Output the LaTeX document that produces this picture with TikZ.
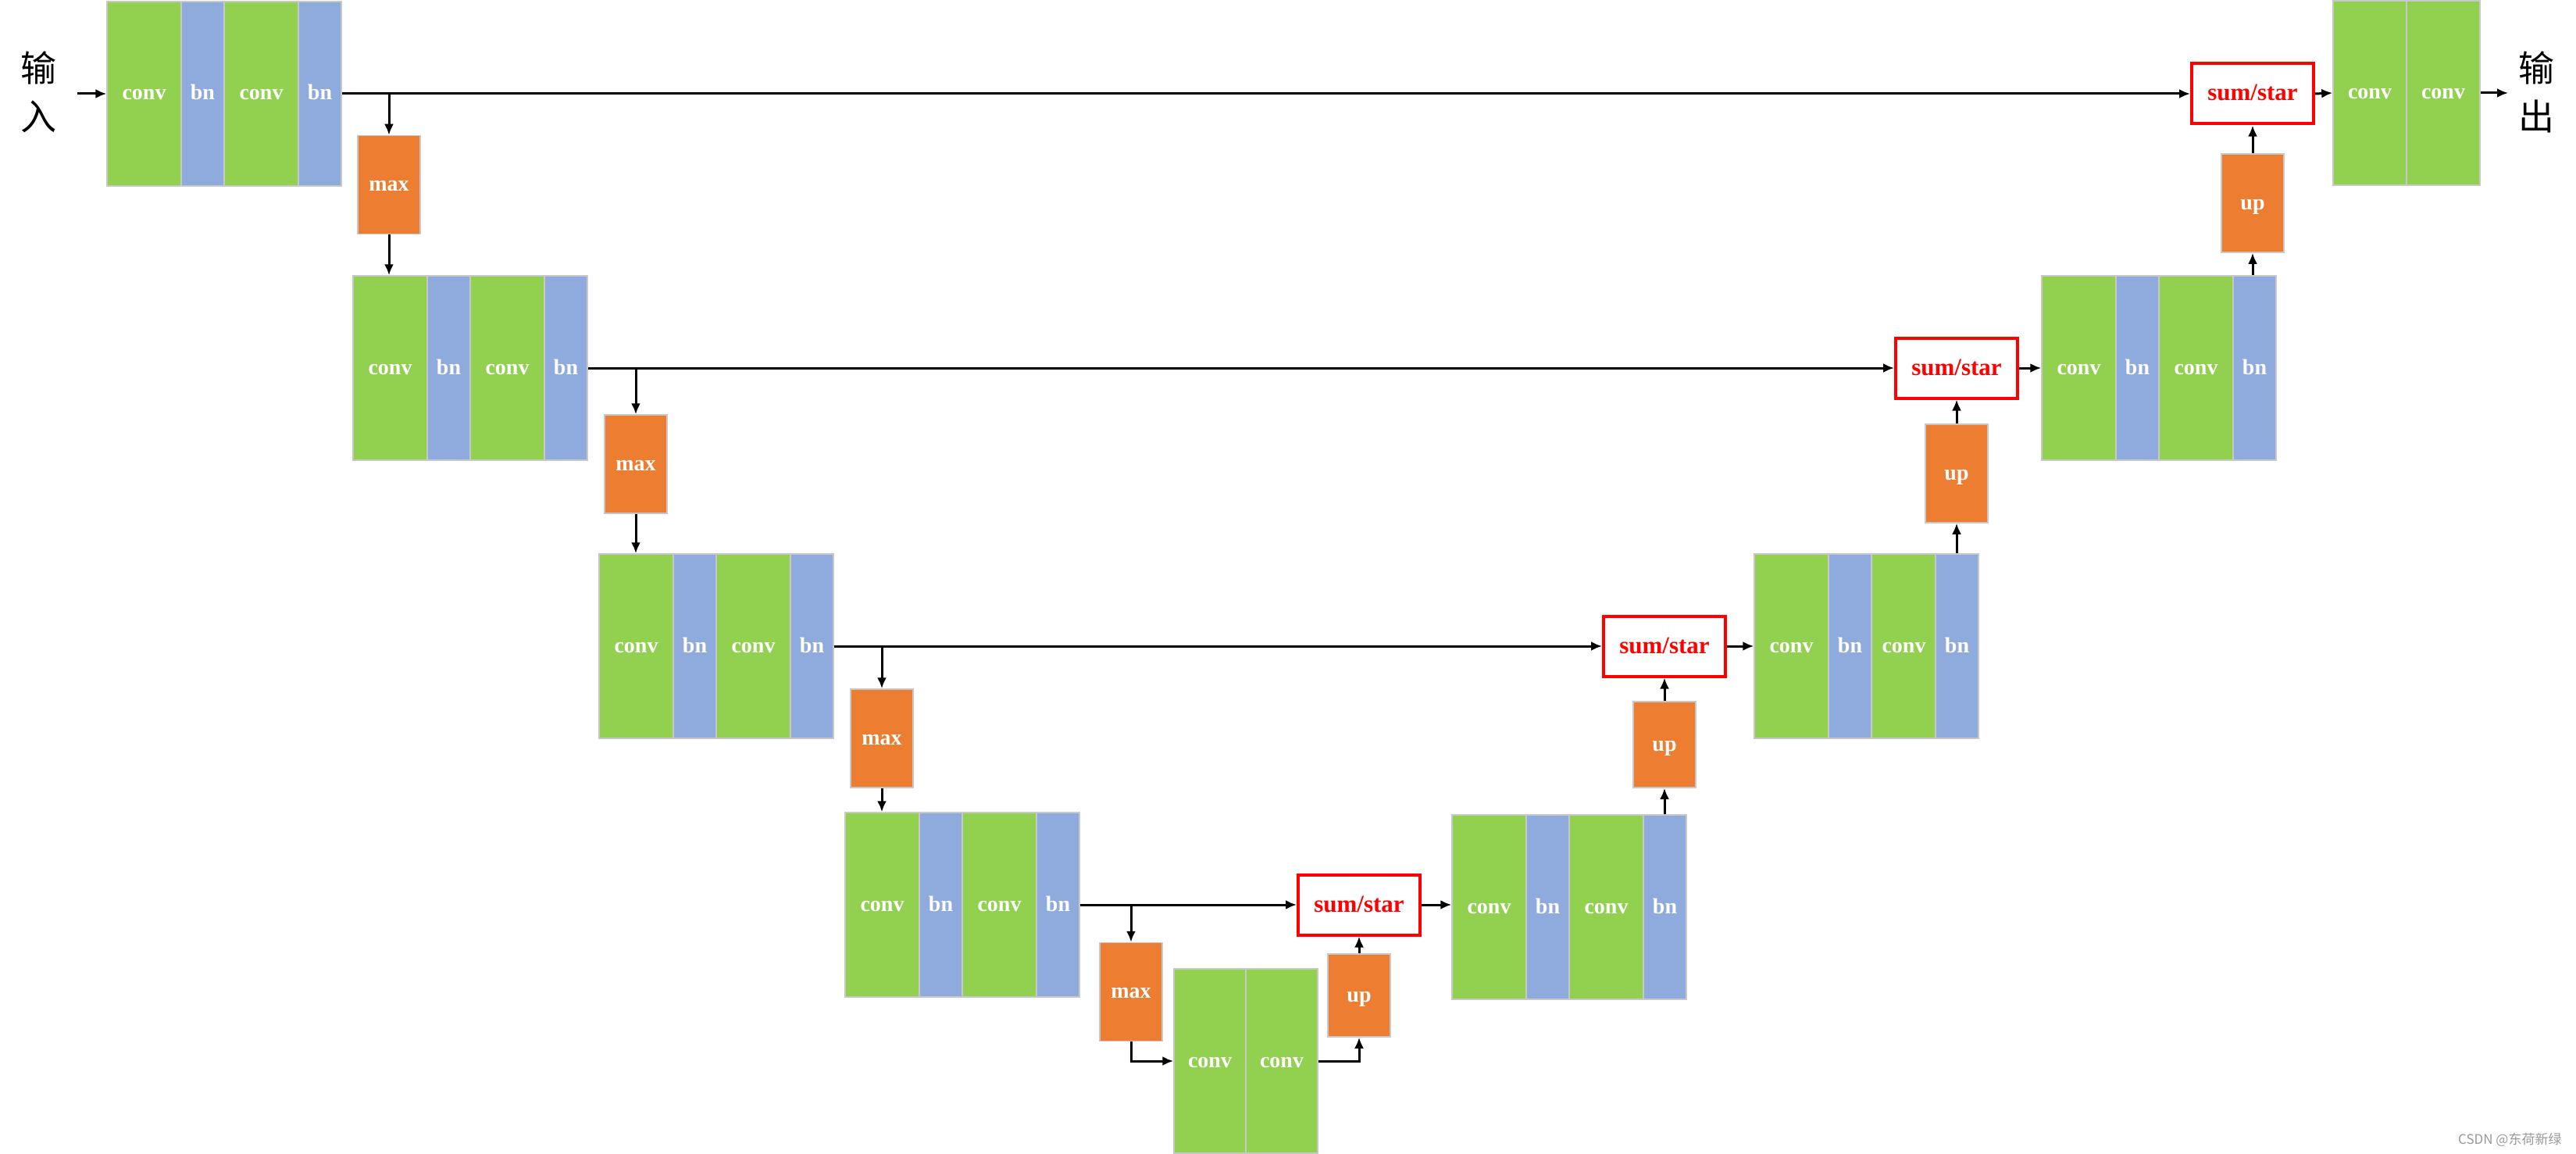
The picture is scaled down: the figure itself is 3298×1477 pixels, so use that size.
\documentclass[tikz,border=0pt]{standalone}
\usepackage{fontspec}
\setmainfont{Liberation Serif}
\newfontfamily\cjk{Noto Sans CJK SC}
\usetikzlibrary{arrows.meta}
\definecolor{convgreen}{HTML}{92D050}
\definecolor{bnblue}{HTML}{8FAADC}
\definecolor{poolorange}{HTML}{ED7D31}
\definecolor{edgegray}{HTML}{C8C8C8}
\newcommand{\lbl}{\bfseries\fontsize{28}{30}\selectfont}

\begin{document}
\begin{tikzpicture}[x=1pt, y=-1pt,
        arrow/.style = {line width=3pt, -{Latex[length=14pt,width=12pt]}},
        layer/.style = {draw=edgegray, line width=1.5pt, inner sep=0pt,
            text height=16pt, text depth=0pt,
            minimum height=236pt, text=white, font=\lbl},
        convbox/.style = {layer, fill=convgreen, minimum width=95pt},
        bnbox/.style = {layer, fill=bnblue, minimum width=55pt},
        maxbox/.style = {layer, fill=poolorange, minimum width=80pt, minimum height=126pt},
        upbox/.style = {maxbox},
        sumbox/.style = {draw=red, line width=4pt, fill=white, text=red, inner sep=0pt,
            text height=18pt, text depth=0pt,
            minimum width=156pt, minimum height=77pt, font=\bfseries\fontsize{31}{33}\selectfont},
        cjklabel/.style = {font=\cjk\fontsize{46}{62}\selectfont, align=center}]
    \useasboundingbox (0,0) rectangle (3298,1477);

    % encoder
    \node[convbox] (c1a) at (184.5,120) {conv};
    \node[bnbox]   (b1a) at (259.5,120) {bn};
    \node[convbox] (c1b) at (334.5,120) {conv};
    \node[bnbox]   (b1b) at (409.5,120) {bn};
    \node[maxbox]  (m1)  at (498,236.5) {max};

    \node[convbox] (c2a) at (499.5,471) {conv};
    \node[bnbox]   (b2a) at (574.5,471) {bn};
    \node[convbox] (c2b) at (649.5,471) {conv};
    \node[bnbox]   (b2b) at (724.5,471) {bn};
    \node[maxbox]  (m2)  at (814,594) {max};

    \node[convbox] (c3a) at (814.5,827) {conv};
    \node[bnbox]   (b3a) at (889.5,827) {bn};
    \node[convbox] (c3b) at (964.5,827) {conv};
    \node[bnbox]   (b3b) at (1039.5,827) {bn};
    \node[maxbox]  (m3)  at (1129,945) {max};

    \node[convbox] (c4a) at (1129.5,1158) {conv};
    \node[bnbox]   (b4a) at (1204.5,1158) {bn};
    \node[convbox] (c4b) at (1279.5,1158) {conv};
    \node[bnbox]   (b4b) at (1354.5,1158) {bn};
    \node[maxbox]  (m4)  at (1448,1269.5) {max};

    % bottom
    \node[convbox, minimum width=92pt] (k1) at (1549,1358) {conv};
    \node[convbox, minimum width=92pt] (k2) at (1641,1358) {conv};

    % decoder
    \node[upbox, minimum height=106pt] (u4) at (1740,1274) {up};
    \node[sumbox] (s4) at (1740,1158) {sum/star};
    \node[convbox] (r4a) at (1906.5,1161) {conv};
    \node[bnbox]   (r4b) at (1981.5,1161) {bn};
    \node[convbox] (r4c) at (2056.5,1161) {conv};
    \node[bnbox]   (r4d) at (2131.5,1161) {bn};

    \node[upbox, minimum height=110pt] (u3) at (2131,953) {up};
    \node[sumbox] (s3) at (2131,827) {sum/star};
    \node[convbox] (r3a) at (2293.5,827) {conv};
    \node[bnbox]   (r3b) at (2368.5,827) {bn};
    \node[convbox, minimum width=83pt] (r3c) at (2437.5,827) {conv};
    \node[bnbox]   (r3d) at (2505.5,827) {bn};

    \node[upbox] (u2) at (2505,606) {up};
    \node[sumbox] (s2) at (2505,471) {sum/star};
    \node[convbox] (r2a) at (2661.5,471) {conv};
    \node[bnbox]   (r2b) at (2736.5,471) {bn};
    \node[convbox] (r2c) at (2811.5,471) {conv};
    \node[bnbox]   (r2d) at (2886.5,471) {bn};

    \node[upbox] (u1) at (2884,260) {up};
    \node[sumbox] (s1) at (2884,120) {sum/star};
    \node[convbox, minimum width=94pt] (f1) at (3034,119) {conv};
    \node[convbox, minimum width=94pt] (f2) at (3128,119) {conv};

    % labels
    \node[cjklabel] (inlbl)  at (50,118) {输\\入};
    \node[cjklabel] (outlbl) at (3247,118) {输\\出};
    \node[font=\cjk\fontsize{17}{19}\selectfont, text=black!40, anchor=east] (mark)
        at (3283,1459) {CSDN @东荷新绿};
    \coordinate (in)  at (99,120);
    \coordinate (out) at (3211,119);

    % connections
    \draw[arrow] (in) -- (c1a.west);
    \draw[arrow] (b1b.east) -- (s1.west);
    \draw[arrow] (m1 |- b1b.east) -- (m1.north);
    \draw[arrow] (m1.south) -- (m1.south |- c2a.north);

    \draw[arrow] (b2b.east) -- (s2.west);
    \draw[arrow] (m2 |- b2b.east) -- (m2.north);
    \draw[arrow] (m2.south) -- (m2.south |- c3a.north);

    \draw[arrow] (b3b.east) -- (s3.west);
    \draw[arrow] (m3 |- b3b.east) -- (m3.north);
    \draw[arrow] (m3.south) -- (m3.south |- c4a.north);

    \draw[arrow] (b4b.east) -- (s4.west);
    \draw[arrow] (m4 |- b4b.east) -- (m4.north);
    \draw[arrow] (m4.south) |- (k1.west);
    \draw[arrow] (k2.east) -| (u4.south);

    \draw[arrow] (u4.north) -- (s4.south);
    \draw[arrow] (s4.east) -- (s4.east -| r4a.west);
    \draw[arrow] (u3.south |- r4d.north) -- (u3.south);
    \draw[arrow] (u3.north) -- (s3.south);
    \draw[arrow] (s3.east) -- (r3a.west);
    \draw[arrow] (u2.south |- r3d.north) -- (u2.south);
    \draw[arrow] (u2.north) -- (s2.south);
    \draw[arrow] (s2.east) -- (r2a.west);
    \draw[arrow] (u1.south |- r2d.north) -- (u1.south);
    \draw[arrow] (u1.north) -- (s1.south);
    \draw[arrow] (s1.east) -- (f1.west);
    \draw[arrow] (f2.east) -- (out);
\end{tikzpicture}
\end{document}
